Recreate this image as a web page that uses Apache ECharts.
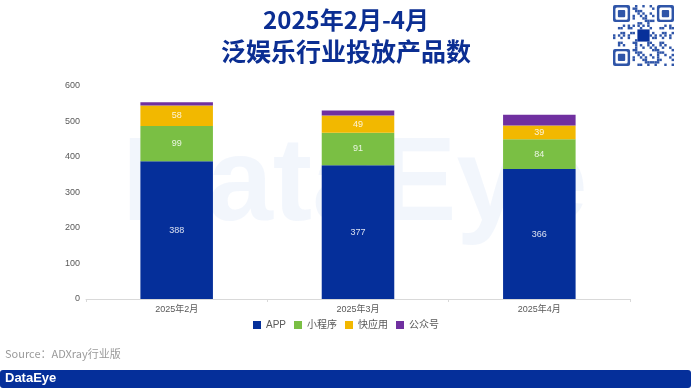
<!DOCTYPE html>
<html><head><meta charset="utf-8">
<script src="https://cdn.jsdelivr.net/npm/echarts@6/dist/echarts.min.js"></script>
<style>html,body{margin:0;padding:0;background:#fff}#c{width:692px;height:389px}</style>
</head><body><div id="c"></div>
<script>
var categories = ['2025年2月', '2025年3月', '2025年4月'];
var appValues = [388, 377, 366];
var miniValues = [99, 91, 84];
var quickValues = [58, 49, 39];
var officialValues = [9, 14, 30];
var seriesNames = ['APP', '小程序', '快应用', '公众号'];
var colors = ['#052f9a', '#7abf44', '#f2b800', '#7030a0'];

// decorative QR-like pattern (not data)
function qrGraphics(x0, y0, size) {
  var n = 25, m = size / n, els = [], col = '#2f55a8';
  function finder(cx, cy) {
    els.push({type:'rect', shape:{x:x0+cx*m, y:y0+cy*m, width:7*m, height:7*m, r:2}, style:{fill:col}});
    els.push({type:'rect', shape:{x:x0+(cx+1)*m, y:y0+(cy+1)*m, width:5*m, height:5*m, r:1.5}, style:{fill:'#fff'}});
    els.push({type:'rect', shape:{x:x0+(cx+2)*m, y:y0+(cy+2)*m, width:3*m, height:3*m, r:1}, style:{fill:col}});
  }
  for (var i = 0; i < n; i++) for (var j = 0; j < n; j++) {
    if ((i < 8 && j < 8) || (i < 8 && j > n - 9) || (i > n - 9 && j < 8)) continue;
    if (i >= 10 && i <= 14 && j >= 10 && j <= 14) continue;
    var h = ((i * 37 + j * 91 + i * j * 13) % 17);
    if (h < 6) els.push({type:'rect', shape:{x:x0+j*m, y:y0+i*m, width:m, height:m}, style:{fill:col}});
  }
  finder(0, 0); finder(n - 7, 0); finder(0, n - 7);
  els.push({type:'rect', shape:{x:x0+10*m, y:y0+10*m, width:5*m, height:5*m}, style:{fill:'#08309a'}});
  return els;
}

var chart = echarts.init(document.getElementById('c'));
var seriesData = [appValues, miniValues, quickValues, officialValues];
var series = seriesData.map(function (d, k) {
  return {
    name: seriesNames[k], type: 'bar', stack: 'total', data: d, barWidth: '40%',
    itemStyle: { color: colors[k] }, z: 3,
    label: { show: k < 3, position: 'inside', color: 'rgba(255,255,255,0.85)', fontSize: 9, fontFamily: 'Arial, "Liberation Sans", sans-serif' }
  };
});

var graphics = [
  { type: 'text', left: 'center', top: 8, z: 10, style: { text: '2025年2月-4月', fill: '#0b2e92', font: 'bold 24px "Noto Sans CJK SC", sans-serif' } },
  { type: 'text', left: 'center', top: 39, z: 10, style: { text: '泛娱乐行业投放产品数', fill: '#0b2e92', font: 'bold 25px "Noto Sans CJK SC", sans-serif' } },
  { type: 'text', x: 122, y: 128, z: 0, silent: true, style: { text: 'DataEye', fill: 'rgba(226,235,248,0.45)', font: 'bold 118px "Liberation Sans", sans-serif' } },
  { type: 'text', x: 5, y: 348, style: { text: 'Source：ADXray行业版', fill: '#9a9a9a', font: '11px "Noto Sans CJK SC", sans-serif' } },
  { type: 'rect', shape: { x: 0, y: 370, width: 691, height: 18, r: 3 }, style: { fill: '#052f9a' } },
  { type: 'text', x: 5, y: 372, style: { text: 'DataEye', fill: '#fff', font: 'bold 13px "Liberation Sans", sans-serif' } }
].concat(qrGraphics(613, 5, 61));

chart.setOption({
  animation: false,
  textStyle: { fontFamily: 'Arial, "Liberation Sans", "Noto Sans CJK SC", sans-serif' },
  grid: { left: 86, right: 62, top: 86, bottom: 90 },
  legend: {
    data: seriesNames, bottom: 54, left: 'center', itemWidth: 8, itemHeight: 8, itemGap: 8,
    icon: 'rect', textStyle: { fontSize: 10, color: '#595959' }
  },
  xAxis: {
    type: 'category', data: categories,
    axisLine: { lineStyle: { color: '#d9d9d9' } },
    axisTick: { show: true, length: 3, lineStyle: { color: '#d9d9d9' } },
    axisLabel: { fontSize: 9, color: '#595959', margin: 6 }
  },
  yAxis: {
    type: 'value', min: 0, max: 600, interval: 100,
    axisLine: { show: false }, axisTick: { show: false }, splitLine: { show: false },
    axisLabel: { fontSize: 9, color: '#595959', margin: 6 }
  },
  graphic: graphics,
  series: series
});
</script></body></html>
